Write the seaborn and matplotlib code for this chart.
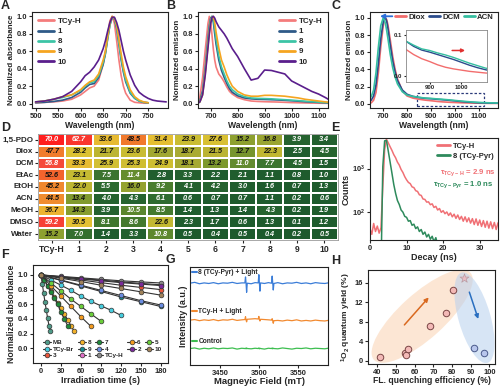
import numpy as np
import pandas as pd
import seaborn as sns
import matplotlib.pyplot as plt
import matplotlib.transforms as mtransforms
from matplotlib.patches import Ellipse, Rectangle
from matplotlib.colors import LinearSegmentedColormap
from matplotlib.ticker import NullLocator

# ---------------- A: absorbance ----------------
abs_wl = [500, 520, 540, 560, 580, 600, 610, 620, 630, 640, 650, 655, 660, 665, 670,
          675, 680, 685, 690, 695, 700, 710, 720, 730, 740, 750]
abs_wl_10 = abs_wl + [760, 770, 780, 790]
abs_tcyh = [0.01, 0.015, 0.02, 0.03, 0.05, 0.10, 0.14, 0.18, 0.20, 0.27, 0.45, 0.60, 0.78, 0.95, 1.0,
            0.92, 0.72, 0.50, 0.32, 0.20, 0.12, 0.04, 0.015, 0.01, 0.005, 0.005]
abs_1 = [0.01, 0.015, 0.025, 0.04, 0.07, 0.13, 0.18, 0.22, 0.23, 0.30, 0.45, 0.57, 0.74, 0.90, 0.995,
         0.97, 0.86, 0.68, 0.50, 0.36, 0.25, 0.12, 0.06, 0.03, 0.015, 0.01]
abs_8 = [0.02, 0.03, 0.05, 0.07, 0.10, 0.15, 0.20, 0.24, 0.25, 0.32, 0.47, 0.58, 0.75, 0.90, 0.99,
         0.98, 0.88, 0.70, 0.52, 0.38, 0.27, 0.13, 0.065, 0.03, 0.015, 0.01]
abs_9 = [0.02, 0.03, 0.05, 0.08, 0.10, 0.16, 0.21, 0.25, 0.27, 0.34, 0.50, 0.60, 0.77, 0.92, 1.0,
         0.98, 0.90, 0.74, 0.57, 0.42, 0.31, 0.16, 0.08, 0.04, 0.02, 0.01]
abs_10 = [0.02, 0.03, 0.05, 0.08, 0.14, 0.25, 0.32, 0.36, 0.42, 0.50, 0.63, 0.72, 0.83, 0.93, 0.99,
          0.99, 0.93, 0.84, 0.72, 0.60, 0.50, 0.33, 0.21, 0.13, 0.09, 0.06, 0.04, 0.03, 0.025, 0.02]

# ---------------- B: emission ----------------
em_wl = [650, 660, 670, 680, 690, 695, 700, 705, 710, 715, 720, 730, 740, 750, 760, 770,
         780, 800, 825, 850, 875, 900, 925, 950, 975, 1000, 1025, 1050, 1075, 1100, 1125, 1150]
em_tcyh = [0.0, 0.08, 0.30, 0.62, 0.92, 1.0, 0.95, 0.78, 0.62, 0.50, 0.42, 0.34, 0.30, 0.25, 0.19, 0.14,
           0.11, 0.07, 0.045, 0.03, 0.025, 0.022, 0.02, 0.018, 0.015, 0.012, 0.01, 0.008, 0.006, 0.005, 0.004, 0.003]
em_1 = [0.0, 0.03, 0.15, 0.42, 0.75, 0.90, 0.98, 1.0, 0.93, 0.80, 0.68, 0.50, 0.38, 0.30, 0.23, 0.17,
        0.13, 0.09, 0.065, 0.055, 0.05, 0.048, 0.045, 0.042, 0.038, 0.033, 0.028, 0.022, 0.018, 0.014, 0.01, 0.008]
em_8 = [0.0, 0.02, 0.12, 0.38, 0.70, 0.86, 0.96, 1.0, 0.97, 0.86, 0.74, 0.55, 0.42, 0.34, 0.26, 0.20,
        0.16, 0.11, 0.08, 0.065, 0.06, 0.058, 0.055, 0.05, 0.045, 0.04, 0.034, 0.028, 0.022, 0.017, 0.012, 0.01]
em_9 = [0.0, 0.02, 0.10, 0.35, 0.66, 0.82, 0.94, 0.99, 1.0, 0.93, 0.82, 0.64, 0.50, 0.42, 0.33, 0.26,
        0.20, 0.14, 0.10, 0.085, 0.085, 0.095, 0.095, 0.09, 0.085, 0.075, 0.065, 0.05, 0.04, 0.03, 0.02, 0.012]
em_10 = [0.0, 0.02, 0.10, 0.33, 0.64, 0.80, 0.92, 0.99, 1.0, 0.98, 0.94, 0.88, 0.84, 0.80, 0.75, 0.69,
         0.63, 0.54, 0.40, 0.27, 0.29, 0.385, 0.38, 0.36, 0.34, 0.26, 0.22, 0.18, 0.14, 0.11, 0.07, 0.025]

# ---------------- C: solvents ----------------
sol_wl = [650, 660, 670, 680, 690, 700, 705, 710, 715, 720, 730, 740, 750, 760, 780, 800,
          825, 850, 875, 900, 925, 950, 975, 1000, 1025, 1050, 1075, 1100, 1125, 1150, 1180]
sol_diox = [0.01, 0.04, 0.13, 0.36, 0.66, 0.90, 0.97, 1.0, 0.98, 0.92, 0.74, 0.55, 0.40, 0.29, 0.15, 0.09,
            0.065, 0.052, 0.042, 0.035, 0.027, 0.021, 0.017, 0.014, 0.011, 0.009, 0.007, 0.006, 0.005, 0.004, 0.004]
sol_dcm = [0.04, 0.09, 0.22, 0.47, 0.76, 0.95, 0.995, 1.0, 0.96, 0.88, 0.68, 0.50, 0.37, 0.27, 0.16, 0.11,
           0.085, 0.072, 0.063, 0.058, 0.052, 0.046, 0.040, 0.033, 0.026, 0.020, 0.015, 0.011, 0.009, 0.007, 0.006]
sol_acn = [0.08, 0.16, 0.36, 0.66, 0.91, 1.0, 0.98, 0.93, 0.85, 0.76, 0.57, 0.42, 0.31, 0.23, 0.14, 0.10,
           0.085, 0.075, 0.066, 0.062, 0.056, 0.051, 0.045, 0.038, 0.031, 0.025, 0.019, 0.015, 0.012, 0.01, 0.008]

# ---------------- D: heatmap ----------------
solvents = ['1,5-PDO', 'Diox', 'DCM', 'EtAc', 'EtOH', 'ACN', 'MeOH', 'DMSO', 'Water']
compounds = ['TCy-H', '1', '2', '3', '4', '5', '6', '7', '8', '9', '10']
qe = [[70.0, 62.7, 33.6, 48.5, 31.4, 23.9, 27.6, 15.2, 16.8, 3.9, 3.4],
      [47.7, 28.2, 21.7, 23.6, 17.6, 18.7, 21.5, 12.7, 22.3, 2.5, 4.5],
      [56.8, 33.3, 25.9, 25.3, 24.9, 18.1, 13.2, 11.0, 7.7, 4.5, 1.5],
      [52.6, 23.1, 7.5, 11.4, 2.8, 3.3, 2.2, 2.1, 1.1, 0.8, 1.0],
      [45.2, 22.0, 5.5, 16.0, 9.2, 4.1, 4.2, 3.0, 1.6, 0.7, 1.3],
      [44.5, 13.4, 4.0, 4.3, 6.1, 0.6, 0.7, 0.7, 1.1, 0.2, 0.6],
      [36.7, 14.3, 3.9, 10.5, 8.5, 1.4, 1.3, 1.4, 4.3, 0.2, 1.9],
      [59.2, 30.5, 8.1, 8.6, 22.6, 2.3, 1.7, 0.6, 1.3, 0.1, 1.2],
      [15.2, 7.0, 1.4, 3.3, 10.8, 0.5, 0.4, 0.5, 0.4, 0.2, 0.5]]

# ---------------- E: decay (0.5 ns channels) ----------------
decay_tcyh = [42, 31, 55, 36, 48, 33, 44, 380, 2700, 4700, 3850, 3150, 2600, 2080, 1760, 1400,
              1200, 950, 810, 650, 550, 480, 450, 380, 365, 310, 298, 250, 242, 200, 196, 170,
              172, 148, 155, 128, 136, 112, 121, 99, 108, 92, 101, 84, 96, 78, 90, 72, 86, 68,
              80, 62, 78, 60, 74, 56, 71, 52, 70, 50, 66, 47, 64, 45, 62, 43, 60, 42, 58, 40, 57]
decay_pyr = [1, 1, 1, 1, 1, 1, 4, 1100, 4300, 4400, 2500, 1400, 780, 430, 270, 185, 150, 112,
             100, 80, 76, 62, 64, 50, 53, 42, 46, 36, 40, 31, 35, 27, 31, 24, 28, 21, 26, 18, 22,
             15, 19, 12, 16, 10, 13, 8, 11, 7, 9, 6, 8, 5, 7, 4, 6, 3, 5, 4, 6, 3, 5, 4, 5,
             3, 4, 3, 5, 2, 4, 2, 3]

# ---------------- F: photodegradation ----------------
f_t30 = [0, 30, 60, 90, 120, 150, 180]
f_tcyh = [1.0, 0.98, 0.96, 0.94, 0.92, 0.905, 0.89]
f_1 = [1.0, 0.975, 0.95, 0.93, 0.905, 0.885, 0.865]
f_2 = [1.0, 0.97, 0.945, 0.92, 0.895, 0.875, 0.855]
f_3 = [1.0, 0.965, 0.93, 0.895, 0.86, 0.83, 0.80]
f_10 = [1.0, 0.955, 0.91, 0.86, 0.815, 0.77, 0.725]
f_4 = [1.0, 0.93, 0.86, 0.79, 0.72, 0.65, 0.59]
f_9 = [1.0, 0.925, 0.85, 0.775, 0.70, 0.635, 0.57]
f_mb_t = [0, 2, 4, 6, 8, 10, 12, 14]
f_mb = [1.0, 0.88, 0.75, 0.63, 0.52, 0.41, 0.31, 0.23]
f_7_t = [0, 5, 10, 15, 20, 25, 30, 35, 40]
f_7 = [1.0, 0.93, 0.85, 0.77, 0.68, 0.60, 0.50, 0.40, 0.31]
f_8_t = [0, 5, 10, 15, 20, 25, 30, 35, 40, 45, 50]
f_8 = [1.0, 0.93, 0.85, 0.78, 0.70, 0.62, 0.55, 0.47, 0.39, 0.31, 0.23]
f_6_t = [0, 15, 30, 45, 60, 75]
f_6 = [1.0, 0.85, 0.71, 0.57, 0.43, 0.30]
f_5_t = [0, 15, 30, 45, 60, 75, 90]
f_5 = [1.0, 0.89, 0.78, 0.67, 0.57, 0.47, 0.37]
f_br_t = [0, 15, 30, 45, 60, 75, 90, 105, 120]
f_br = [1.0, 0.93, 0.86, 0.79, 0.71, 0.64, 0.58, 0.52, 0.45]

# ---------------- G: EPR ----------------
g_field = [3412, 3418, 3424, 3430, 3436, 3442, 3448, 3454, 3460, 3466,
           3472, 3478, 3482, 3482.8, 3483.5, 3484.2, 3485, 3490, 3495, 3499,
           3499.8, 3500.5, 3501.2, 3502, 3507, 3512, 3516, 3516.8, 3517.5, 3518.2,
           3519, 3524, 3530, 3536, 3542, 3548, 3554, 3560, 3566, 3572,
           3578, 3584, 3588]
g_pyr = [2.30, 2.33, 2.28, 2.31, 2.29, 2.32, 2.28, 2.31, 2.30, 2.33,
         2.29, 2.31, 2.31, 2.52, 2.30, 1.98, 2.30, 2.28, 2.32, 2.31,
         2.60, 2.30, 2.02, 2.31, 2.29, 2.32, 2.30, 2.55, 2.31, 2.06,
         2.29, 2.32, 2.28, 2.31, 2.30, 2.33, 2.29, 2.31, 2.28, 2.32,
         2.30, 2.29, 2.31]
g_tcyh = [1.00, 1.02, 0.98, 1.01, 0.99, 1.02, 0.98, 1.01, 1.00, 1.03,
          0.99, 1.01, 1.02, 1.12, 1.00, 0.94, 1.03, 1.04, 1.05, 1.04,
          1.13, 1.02, 0.97, 1.03, 1.02, 1.01, 1.00, 1.05, 0.98, 0.89,
          0.98, 0.99, 0.97, 1.00, 0.98, 1.01, 0.97, 0.99, 0.97, 1.00,
          0.98, 0.97, 0.99]
g_ctrl = [0.0, 0.02, -0.02, 0.01, -0.01, 0.02, -0.01, 0.01, 0.0, 0.02,
          -0.02, 0.01, 0.0, 0.01, -0.01, 0.02, 0.0, -0.01, 0.01, 0.0,
          0.02, -0.01, 0.01, 0.0, -0.02, 0.01, 0.0, 0.02, -0.01, 0.01,
          0.0, -0.01, 0.02, 0.0, -0.02, 0.01, 0.0, 0.02, -0.01, 0.01,
          0.0, -0.01, 0.01]

# ---------------- H: scatter ----------------
h_x_red = [41.5, 54.8, 55.6, 56.3, 68.3, 76.7, 80.7]
h_y_red = [0.8, 1.6, 1.2, 2.4, 7.2, 9.8, 14.4]
h_x_star = [86.5]
h_y_star = [17.0]
h_x_blue = [92.0, 97.0]
h_y_blue = [2.5, 1.6]

sns.set_theme(style="ticks")
plt.rcParams['font.family'] = ['Liberation Sans', 'DejaVu Sans']
plt.rcParams.update({
    'font.weight': 'bold', 'axes.labelweight': 'bold', 'font.size': 5.6,
    'axes.labelsize': 5.8, 'xtick.labelsize': 5.4, 'ytick.labelsize': 5.4,
    'axes.linewidth': 0.8, 'axes.edgecolor': '#222222',
    'xtick.major.size': 2.2, 'ytick.major.size': 2.2,
    'xtick.major.width': 0.8, 'ytick.major.width': 0.8,
    'xtick.major.pad': 1.2, 'ytick.major.pad': 1.2,
    'axes.labelpad': 1.2, 'mathtext.default': 'regular',
})

fig = plt.figure(figsize=(5, 3.87), dpi=100)


def panel(x0, y0, x1, y1):
    return fig.add_axes([x0 / 500, 1 - y1 / 387, (x1 - x0) / 500, (y1 - y0) / 387])


def letter(x, y, s):
    fig.text(x / 500, 1 - y / 387, s, fontsize=9, fontweight='bold', va='top', ha='left')


c_tcyh, c_1, c_8, c_9, c_10 = '#F47C7C', '#2E5A88', '#3CC4A6', '#F5A520', '#5A1E8C'
ticks01 = [0, 0.2, 0.4, 0.6, 0.8, 1.0]
labels01 = ['0.0', '0.2', '0.4', '0.6', '0.8', '1.0']

# A
axA = panel(32, 12, 168, 108)
for nm, wl, v, c in [('TCy-H', abs_wl, abs_tcyh, c_tcyh), ('1', abs_wl, abs_1, c_1),
                     ('8', abs_wl, abs_8, c_8), ('9', abs_wl, abs_9, c_9), ('10', abs_wl_10, abs_10, c_10)]:
    sns.lineplot(x=wl, y=v, ax=axA, color=c, lw=1.2, label=nm)
axA.set_xlim(492, 794)
axA.set_ylim(-0.05, 1.05)
axA.set_xticks([500, 550, 600, 650, 700, 750])
axA.set_yticks(ticks01)
axA.set_yticklabels(labels01)
axA.set_xlabel('Wavelength (nm)', fontsize=6.2)
axA.set_ylabel('Normalized absorbance')
lg = axA.legend(loc='upper left', frameon=False, fontsize=5.8, handlelength=2.0, handletextpad=0.5,
                labelspacing=0.3, borderaxespad=0.3)
for h in lg.get_lines():
    h.set_linewidth(2)

# B
axB = panel(198, 12, 328, 108)
for nm, v, c in [('TCy-H', em_tcyh, c_tcyh), ('1', em_1, c_1), ('8', em_8, c_8),
                 ('9', em_9, c_9), ('10', em_10, c_10)]:
    sns.lineplot(x=em_wl, y=v, ax=axB, color=c, lw=1.2, label=nm)
axB.set_xlim(653, 1135)
axB.set_ylim(-0.05, 1.05)
axB.set_xticks([700, 800, 900, 1000, 1100])
axB.set_yticks(ticks01)
axB.set_yticklabels(labels01)
axB.set_xlabel('Wavelength (nm)', fontsize=6.2)
axB.set_ylabel('Normalized emission')
lg = axB.legend(loc='upper right', frameon=False, fontsize=5.8, handlelength=2.0, handletextpad=0.5,
                labelspacing=0.3, borderaxespad=0.3)
for h in lg.get_lines():
    h.set_linewidth(2)

# C
axC = panel(370, 12, 498, 108)
for nm, v, c in [('Diox', sol_diox, '#F26D6D'), ('DCM', sol_dcm, '#2B4C8C'), ('ACN', sol_acn, '#35BFA0')]:
    sns.lineplot(x=sol_wl, y=v, ax=axC, color=c, lw=1.2, label=nm)
axC.set_xlim(645, 1180)
axC.set_ylim(-0.05, 1.07)
axC.set_xticks([700, 800, 900, 1000, 1100])
axC.set_yticks(ticks01)
axC.set_yticklabels(labels01)
axC.set_xlabel('Wavelength (nm)', fontsize=6.2)
axC.set_ylabel('Normalized emission')
lg = axC.legend(loc='upper right', frameon=False, fontsize=5.6, ncol=3, handlelength=1.4,
                handletextpad=0.3, columnspacing=0.5, borderaxespad=0.15, bbox_to_anchor=(1.0, 1.03))
for h in lg.get_lines():
    h.set_linewidth(2)
axC.annotate('', xy=(675, 1.02), xytext=(750, 1.02),
             arrowprops=dict(arrowstyle='-|>', color='#2D6FD8', lw=1.3, mutation_scale=6))
axC.add_patch(Rectangle((840, -0.03), 280, 0.16, fill=False, ls=(0, (2, 1.5)), lw=0.9, ec='#2B3A7A'))
axIn = fig.add_axes([406 / 500, 1 - 82 / 387, 81 / 500, 52 / 387])
for v, c in [(sol_diox, '#F26D6D'), (sol_dcm, '#2B4C8C'), (sol_acn, '#35BFA0')]:
    sns.lineplot(x=sol_wl, y=v, ax=axIn, color=c, lw=1.0)
axIn.set_xlim(826, 1080)
axIn.set_ylim(-0.015, 0.112)
axIn.set_xticks([900, 1000])
axIn.set_yticks([0.0, 0.1])
axIn.set_yticklabels(['0.0', '0.1'])
axIn.tick_params(labelsize=4.3, length=1.5, pad=1)
for s in axIn.spines.values():
    s.set_color('#888888')
    s.set_linewidth(0.6)
axIn.annotate('', xy=(1020, 0.062), xytext=(962, 0.062),
              arrowprops=dict(arrowstyle='-|>', color='#E03030', lw=1.1, mutation_scale=5))

# D
cmap = LinearSegmentedColormap.from_list('qe', [
    (0.0, '#1D5A2D'), (0.045, '#225F2F'), (0.09, '#2F6C2F'), (0.13, '#4A7D2E'),
    (0.19, '#7F9A2E'), (0.26, '#A6A932'), (0.34, '#CABD32'), (0.43, '#E3C232'),
    (0.53, '#ECB230'), (0.64, '#F08A2E'), (0.74, '#F26A2A'), (0.81, '#F54A3A'), (1.0, '#FF1E1E')])
dfD = pd.DataFrame(qe, index=solvents, columns=compounds)
axD = panel(38, 134, 338, 240)
sns.heatmap(dfD, ax=axD, cmap=cmap, vmin=0, vmax=70, annot=True, fmt='.1f',
            annot_kws=dict(fontsize=5.2, fontstyle='italic', fontweight='bold'),
            linewidths=1.3, linecolor='white', cbar=False)
for txt, v in zip(axD.texts, np.array(qe).ravel()):
    txt.set_color('white' if (v < 12 or v > 55) else '#111111')
axD.set_xlabel('')
axD.set_ylabel('')
axD.tick_params(axis='both', length=2.2, width=0.8, pad=1.2)
axD.set_yticklabels(solvents, rotation=0, fontsize=5.8)
axD.set_xticklabels(compounds, rotation=0, fontsize=6.2)
for s in axD.spines.values():
    s.set_visible(True)
    s.set_color('#9A9A9A')
    s.set_linewidth(0.6)

# E
axE = panel(370, 138, 498, 240)
sns.lineplot(x=np.arange(len(decay_tcyh)) * 0.5, y=decay_tcyh, ax=axE, color='#F07075', lw=1.1,
             label='TCy-H')
sns.lineplot(x=np.arange(len(decay_pyr)) * 0.5, y=decay_pyr, ax=axE, color='#2E8A5C', lw=1.1,
             label='8 (TCy-Pyr)')
axE.set_yscale('log')
axE.set_xlim(0, 35)
axE.set_ylim(23, 5000)
axE.yaxis.set_minor_locator(NullLocator())
axE.set_xticks([0, 10, 20, 30])
axE.set_xlabel('Decay (ns)', fontsize=6.5)
axE.set_ylabel('Counts', fontsize=6.5)
lg = axE.legend(loc='upper right', frameon=False, fontsize=5.5, handlelength=1.6, handletextpad=0.4,
                labelspacing=0.3, borderaxespad=0.2)
for h in lg.get_lines():
    h.set_linewidth(2)
axE.text(0.55, 0.66, r'$\tau_{TCy-H}$ = 2.9 ns', transform=axE.transAxes, color='#F07075',
         fontsize=5.6, va='center')
axE.text(0.49, 0.54, r'$\tau_{TCy-Pyr}$ = 1.0 ns', transform=axE.transAxes, color='#2E8A5C',
         fontsize=5.6, va='center')

# F
axF = panel(33, 265, 168, 363)
f_series = [('MB', f_mb_t, f_mb, '#4E9A88'), ('TCy-Br', f_br_t, f_br, '#45CCDD'),
            ('3', f_t30, f_3, '#E8553A'), ('8', f_8_t, f_8, '#F2B12A'), ('9', f_t30, f_9, '#168A8E'),
            ('1', f_t30, f_1, '#E070C8'), ('7', f_7_t, f_7, '#1E8A3A'), ('4', f_t30, f_4, '#6A8CE0'),
            ('TCy-H', f_t30, f_tcyh, '#8A8A8A'), ('6', f_6_t, f_6, '#F29A1E'),
            ('2', f_t30, f_2, '#7A2A9A'), ('5', f_5_t, f_5, '#6ACD3A'), ('10', f_t30, f_10, '#A0825A')]
for nm, t, v, c in f_series:
    sns.lineplot(x=t, y=v, ax=axF, color='#333333', lw=0.8, marker='o', markersize=3.4,
                 markerfacecolor=c, markeredgecolor='#333333', markeredgewidth=0.5, label=nm)
axF.set_xlim(-12, 191)
axF.set_ylim(-0.2, 1.135)
axF.set_xticks([0, 30, 60, 90, 120, 150, 180])
axF.set_yticks(ticks01)
axF.set_yticklabels(labels01)
axF.set_xlabel('Irradiation time (s)', fontsize=6.5)
axF.set_ylabel('Normalized absorbance', fontsize=6.2)
axF.legend(loc='lower left', bbox_to_anchor=(0.03, -0.01), ncol=5, frameon=False, fontsize=4.6,
           handlelength=1.3, handletextpad=0.25, columnspacing=0.6, labelspacing=0.15)

# G
axG = panel(190, 267, 328, 365)
g_traces = [('8 (TCy-Pyr) + Light', g_pyr, '#3B7DD8', 0.947),
            ('TCy-H + Light', g_tcyh, '#F28A30', 0.55),
            ('Control', g_ctrl, '#3DBE50', 0.24)]
for nm, v, c, ty in g_traces:
    sns.lineplot(x=g_field, y=v, ax=axG, color=c, lw=0.9)
    axG.plot([0.018, 0.05], [ty, ty], transform=axG.transAxes, color=c, lw=1.5)
    axG.text(0.06, ty, nm, transform=axG.transAxes, fontsize=4.8, va='center')
axG.set_xlim(3412, 3588)
axG.set_ylim(-0.58, 2.87)
axG.set_xticks([3450, 3500, 3550])
axG.set_yticks([])
axG.set_xlabel('Magneyic Field (mT)', fontsize=6.8, labelpad=0.5)
axG.set_ylabel('Intensity (a.u.)', fontsize=6.5)

# H
axH = panel(368, 270, 495, 364)
tr_o = fig.dpi_scale_trans + mtransforms.ScaledTranslation(64, 9.1, axH.transData)
axH.add_patch(Ellipse((0, 0), 1.30, 0.45, angle=42, transform=tr_o, fc='#FAD3B2', alpha=0.55,
                      ec='none', zorder=0))
tr_b = fig.dpi_scale_trans + mtransforms.ScaledTranslation(92, 8.8, axH.transData)
axH.add_patch(Ellipse((0, 0), 0.94, 0.32, angle=106, transform=tr_b, fc='#B7D0EE', alpha=0.55,
                      ec='none', zorder=0))
sns.scatterplot(x=h_x_red, y=h_y_red, ax=axH, s=22, color='#F3B9B6', edgecolor='#7A4545',
                linewidth=0.7, zorder=3)
sns.scatterplot(x=h_x_blue, y=h_y_blue, ax=axH, s=22, color='#B8C6EC', edgecolor='#4A5A8A',
                linewidth=0.7, zorder=3)
sns.scatterplot(x=h_x_star, y=h_y_star, ax=axH, s=45, marker='*', color='#E9BCC4',
                edgecolor='#B89AA2', linewidth=0.5, zorder=3)
axH.annotate('', xy=(68.5, 13.4), xytext=(53.5, 6.9),
             arrowprops=dict(arrowstyle='-|>', color='#D9691F', lw=1.1, mutation_scale=6))
axH.annotate('', xy=(94.5, 8.0), xytext=(88.8, 14.6),
             arrowprops=dict(arrowstyle='-|>', color='#2A6FC0', lw=1.1, mutation_scale=6))
axH.set_xlim(35, 103)
axH.set_ylim(-0.7, 18.6)
axH.set_xticks([40, 50, 60, 70, 80, 90, 100])
axH.set_yticks([0, 4, 8, 12, 16])
axH.set_xlabel('FL. quenching efficiency (%)', fontsize=6.2, labelpad=0.5)
axH.set_ylabel(r'$^1$O$_2$ quantum yield (%)', fontsize=6)

for s, x, y in [('A', 1, 0), ('B', 166, 0), ('C', 331, 0), ('D', 1, 122), ('E', 331, 122),
                ('F', 1, 249), ('G', 166, 254), ('H', 331, 255)]:
    letter(x, y, s)

fig.savefig('out.png', dpi=100)
